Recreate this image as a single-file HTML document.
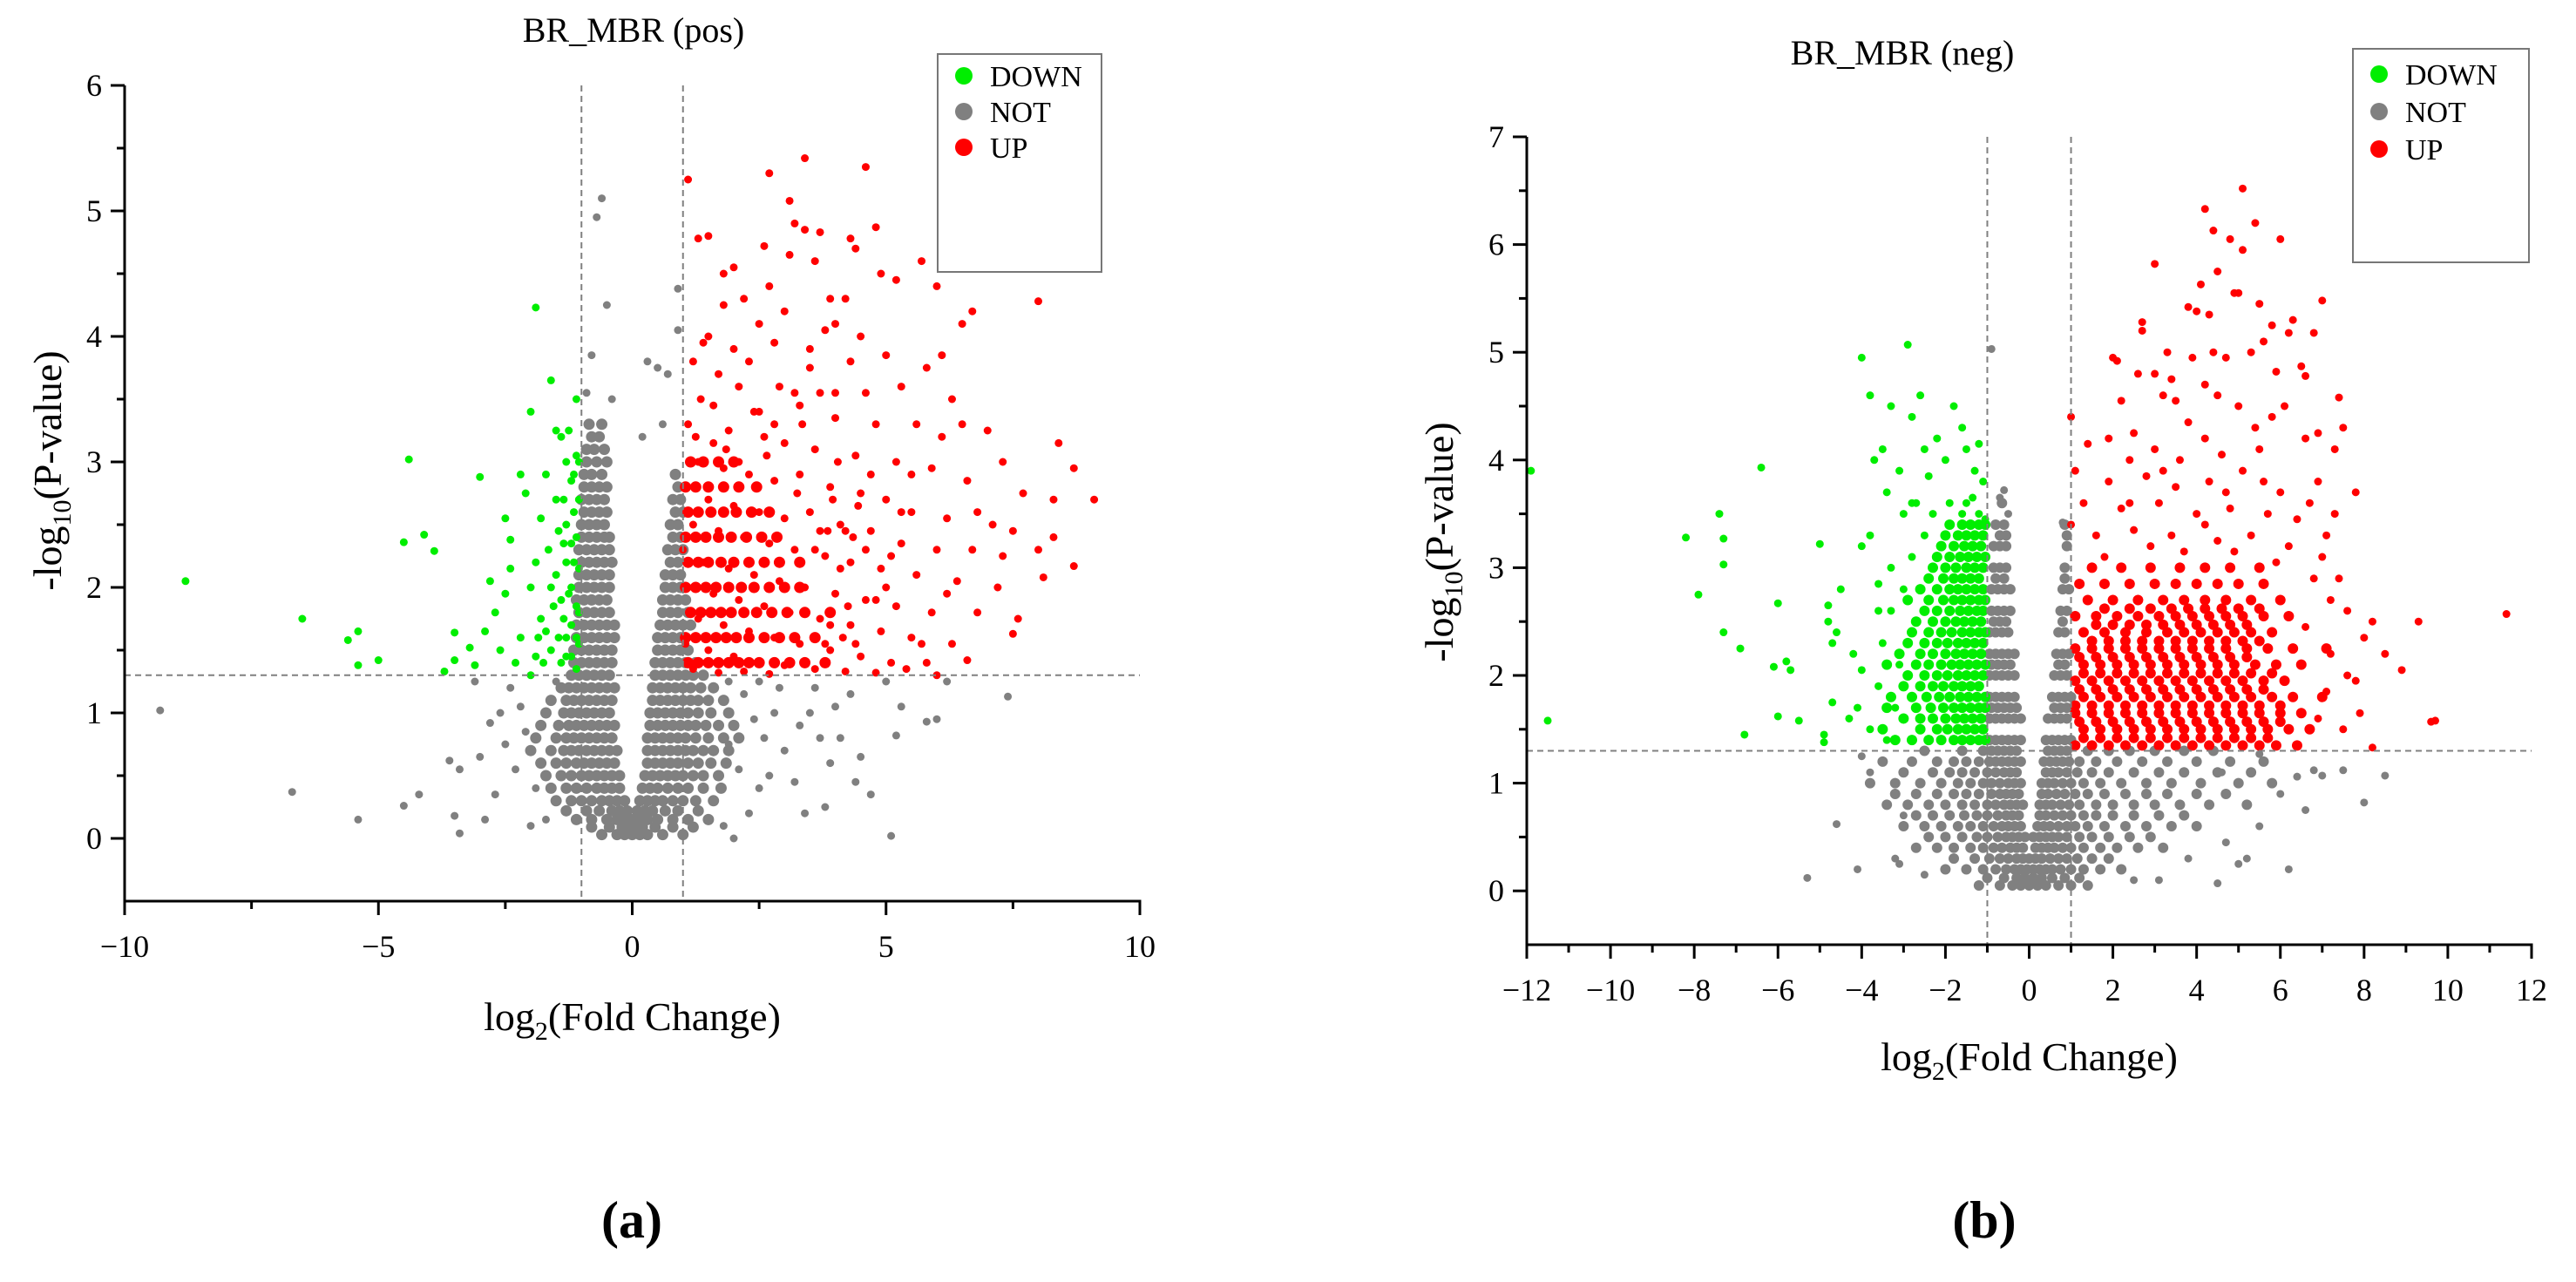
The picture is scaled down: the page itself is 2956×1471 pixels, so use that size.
<!DOCTYPE html>
<html><head><meta charset="utf-8">
<style>
html,body{margin:0;padding:0;background:#fff;}
svg{display:block;font-family:"Liberation Serif","DejaVu Serif",serif;}
</style></head>
<body>
<svg id="fig" width="2956" height="1471" viewBox="0 0 2956 1471" xmlns="http://www.w3.org/2000/svg">
<rect width="2956" height="1471" fill="#fff"/>
<g id="panelA"></g>
<g id="panelB"></g>
</svg>
<script>
// ---------------- Panel A data (log2FC, -log10 p) ----------------
const aXTicks = [-10,-5,0,5,10];
const aXTickLabels = ["\u221210","\u22125","0","5","10"];
const aYTicks = [0,1,2,3,4,5,6];
const aYTickLabels = ["0","1","2","3","4","5","6"];
const aDown = [[-8.8,2.05],[-6.5,1.75],[-5.6,1.58],[-5.4,1.65],[-5.4,1.38],[-5.0,1.42],[-4.4,3.02],[-4.5,2.36],[-4.1,2.42],[-3.9,2.29],[-3.7,1.33],[-3.5,1.64],[-3.5,1.42],[-3.2,1.52],[-3.0,2.88],[-2.8,2.05],[-2.7,1.8],[-2.5,2.55],[-2.5,1.95],[-2.4,2.38],[-2.2,2.9],[-2.2,1.6],[-2.1,2.75],[-2.0,3.4],[-2.0,1.3],[-1.9,4.23],[-1.9,2.2],[-1.8,2.55],[-1.8,1.75],[-1.7,2.9],[-1.6,3.65],[-1.6,1.5],[-1.5,3.25],[-1.5,2.7],[-1.5,2.1],[-1.4,3.2],[-1.4,1.9],[-1.4,1.4],[-1.3,3.0],[-1.3,2.5],[-1.3,2.2],[-1.3,1.6],[-1.2,2.85],[-1.2,2.0],[-1.2,1.7],[-1.1,3.5],[-1.1,3.05],[-1.1,2.4],[-1.1,1.85],[-1.1,1.35],[-1.05,2.7],[-1.05,2.15],[-1.05,1.55],[-2.6,1.5],[-2.3,1.4],[-2.0,2.0],[-1.75,1.4],[-1.65,2.3],[-1.35,2.7],[-1.25,3.25],[-1.15,2.6],[-2.9,1.65],[-3.1,1.38],[-2.4,2.15],[-1.85,1.6],[-1.55,1.85],[-1.45,2.45],[-1.25,1.95],[-1.05,3.0],[-1.15,2.2],[-1.2,1.45],[-1.35,1.75],[-1.05,1.8],[-1.1,1.6],[-1.2,2.35],[-1.3,1.45],[-1.45,1.6],[-1.6,2.0],[-1.7,1.65],[-1.9,1.45],[-1.15,2.9],[-1.35,2.35]];
const aUp = [[1.1,5.25],[2.7,5.3],[3.4,5.42],[4.6,5.35],[3.1,5.08],[4.8,4.87],[3.2,4.9],[3.4,4.85],[3.7,4.83],[1.3,4.78],[1.5,4.8],[4.3,4.78],[4.4,4.7],[2.6,4.72],[3.1,4.65],[2.0,4.55],[1.8,4.5],[5.7,4.6],[3.6,4.6],[4.9,4.5],[5.2,4.45],[6.0,4.4],[8.0,4.28],[6.7,4.2],[2.2,4.3],[1.8,4.25],[3.0,4.2],[4.2,4.3],[2.5,4.1],[3.8,4.05],[4.0,4.1],[6.5,4.1],[1.4,3.95],[2.8,3.95],[3.5,3.9],[4.3,3.8],[5.0,3.85],[5.8,3.75],[6.1,3.85],[1.2,3.8],[1.7,3.7],[2.1,3.6],[2.9,3.6],[3.7,3.55],[4.6,3.55],[5.3,3.6],[6.3,3.5],[7.0,3.25],[8.4,3.15],[1.6,3.45],[2.4,3.4],[3.3,3.45],[4.0,3.35],[4.8,3.3],[5.6,3.3],[6.1,3.2],[7.3,3.0],[8.7,2.95],[9.1,2.7],[1.1,3.3],[1.9,3.25],[2.6,3.2],[3.0,3.15],[3.6,3.1],[4.4,3.05],[5.2,3.0],[5.9,2.95],[6.6,2.85],[7.7,2.75],[8.3,2.7],[1.3,3.0],[1.8,2.95],[2.3,2.9],[2.8,2.85],[3.3,2.9],[3.9,2.8],[4.5,2.75],[5.0,2.7],[5.5,2.6],[6.2,2.55],[7.1,2.5],[7.5,2.45],[8.3,2.4],[1.05,2.8],[1.5,2.7],[2.0,2.65],[2.5,2.6],[3.0,2.55],[3.5,2.6],[4.1,2.5],[4.7,2.45],[5.3,2.35],[6.0,2.3],[6.7,2.3],[7.3,2.25],[8.0,2.3],[8.7,2.17],[1.2,2.5],[1.7,2.45],[2.2,2.4],[2.7,2.35],[3.2,2.3],[3.8,2.25],[4.3,2.2],[4.9,2.15],[5.6,2.1],[6.4,2.05],[8.1,2.08],[1.0,2.3],[1.4,2.2],[1.9,2.15],[2.4,2.1],[2.9,2.05],[3.4,2.0],[4.0,1.95],[4.6,1.9],[5.2,1.85],[5.9,1.8],[6.8,1.8],[7.6,1.75],[1.1,2.0],[1.6,1.95],[2.1,1.9],[2.6,1.85],[3.1,1.8],[3.7,1.75],[4.3,1.7],[4.9,1.65],[5.5,1.6],[6.3,1.55],[7.5,1.63],[1.3,1.75],[1.8,1.7],[2.3,1.65],[2.8,1.6],[3.3,1.55],[3.9,1.5],[4.5,1.45],[5.1,1.4],[5.8,1.4],[6.6,1.42],[1.05,1.55],[1.5,1.5],[2.0,1.45],[2.5,1.4],[3.0,1.38],[3.6,1.35],[4.2,1.33],[4.8,1.32],[5.4,1.35],[6.0,1.3],[1.2,1.35],[1.7,1.32],[2.2,1.33],[2.7,1.31],[3.35,3.3],[4.05,3.0],[3.2,3.55],[3.5,3.75],[1.35,3.5],[5.0,2.0],[5.3,2.6],[4.7,2.9],[5.5,2.9],[4.0,3.55],[4.5,4.0],[3.9,4.3],[2.3,3.8],[2.0,3.9],[1.5,4.0],[2.7,4.4],[6.5,3.3],[6.8,2.6],[7.2,2.0],[5.7,1.55],[6.2,1.95],[4.4,1.55],[4.6,2.3],[4.2,2.45],[4.8,1.9],[5.1,2.25],[3.6,2.3],[3.8,1.55],[3.7,2.45],[3.9,1.7],[4.1,2.15],[1.6,3.15],[1.25,3.2],[2.5,3.4],[2.8,3.3],[2.1,3.0],[1.85,3.1],[2.65,3.05],[3.25,2.75],[3.95,2.7],[4.45,2.65],[3.85,2.45],[4.35,2.4],[4.15,1.6],[4.25,1.85]];
const aUpRowY = [1.4,1.6,1.8,2.0,2.2,2.4,2.6,2.8,3.0];
const aUpRowX = [
 [1.1,1.3,1.5,1.7,1.9,2.1,2.3,2.5,2.8,3.1,3.4,3.8],
 [1.05,1.25,1.45,1.65,1.85,2.05,2.3,2.6,2.9,3.2,3.6],
 [1.15,1.35,1.55,1.75,1.95,2.2,2.45,2.75,3.05,3.4,3.9],
 [1.05,1.25,1.45,1.65,1.9,2.15,2.4,2.7,3.0,3.3],
 [1.1,1.3,1.5,1.75,2.0,2.3,2.6,2.9,3.3],
 [1.05,1.25,1.45,1.7,1.95,2.25,2.55,2.85],
 [1.1,1.3,1.55,1.8,2.05,2.35,2.7],
 [1.05,1.25,1.5,1.8,2.1,2.45],
 [1.15,1.4,1.7,2.0]
];
const aNotOutliers = [[-9.3,1.02],[-6.7,0.37],[-5.4,0.15],[-4.5,0.26],[-4.2,0.35],[-3.5,0.18],[-3.4,0.04],[-3.6,0.62],[-3.4,0.55],[-2.0,0.1],[-2.3,0.55],[-2.8,0.92],[-2.6,1.0],[-3.0,0.65],[-3.1,1.25],[-2.4,1.2],[7.4,1.13],[5.1,0.02],[6.0,0.95],[5.8,0.93],[5.3,1.05],[4.5,0.65],[3.8,0.25],[4.7,0.35],[5.2,0.82],[4.1,0.8],[3.5,1.0],[3.0,0.7],[2.7,0.5],[2.5,0.4],[2.9,1.2],[3.3,0.9],[3.9,0.6],[4.3,1.15],[6.2,1.25],[5.0,1.25],[2.0,0.0],[1.8,0.1],[-0.6,5.1],[-0.7,4.95],[-0.5,4.25],[0.9,4.38],[0.9,4.05],[0.3,3.8],[0.5,3.75],[-0.8,3.85],[-0.9,3.55],[-0.4,3.5],[0.7,3.7],[0.6,3.3],[0.2,3.2],[2.2,1.15],[2.6,0.8],[3.6,1.2],[4.0,1.05],[2.3,0.2],[1.9,1.25],[-2.1,0.85],[-1.9,0.4],[-2.5,0.75],[-2.2,1.05],[-1.8,0.9],[-2.7,0.35],[-2.9,0.15],[2.4,0.95],[2.8,1.0],[3.2,0.45],[3.4,0.2],[2.1,0.55],[2.5,1.25],[1.9,0.75],[-1.5,1.25],[-1.7,0.15],[4.4,0.45],[3.7,0.8]];
const aNotRowY = [3.3,3.1,2.9,2.7,2.5,2.3,2.1,1.9,1.7,1.5,1.3,1.1,0.9,0.7,0.5,0.3,0.15,0.03,
                  3.2,3.0,2.8,2.6,2.4,2.2,2.0,1.8,1.6,1.4,1.2,1.0,0.8,0.6,0.4,0.22,0.09];
const aNotRowX = [
 [-0.85,-0.6],
 [-0.9,-0.75,-0.55],
 [-0.95,-0.8,-0.6,0.85],
 [-1.0,-0.85,-0.7,-0.55,0.8,0.95],
 [-1.0,-0.85,-0.7,-0.55,0.75,0.9],
 [-1.05,-0.9,-0.75,-0.6,-0.45,0.7,0.85,1.0],
 [-1.05,-0.9,-0.75,-0.6,-0.45,0.65,0.8,0.95],
 [-1.1,-0.95,-0.8,-0.65,-0.5,0.6,0.75,0.9,1.05],
 [-1.1,-0.95,-0.8,-0.65,-0.5,-0.35,0.55,0.7,0.85,1.0,1.15],
 [-1.15,-1.0,-0.85,-0.7,-0.55,-0.4,0.5,0.65,0.8,0.95,1.1],
 [-1.2,-1.05,-0.9,-0.75,-0.6,-0.45,0.45,0.6,0.75,0.9,1.05,1.2,1.4],
 [-1.6,-1.3,-1.15,-1.0,-0.85,-0.7,-0.55,-0.4,0.4,0.55,0.7,0.85,1.0,1.15,1.3,1.5,1.8],
 [-1.8,-1.45,-1.25,-1.1,-0.95,-0.8,-0.65,-0.5,-0.35,0.35,0.5,0.65,0.8,0.95,1.1,1.25,1.45,1.7,2.0],
 [-2.0,-1.6,-1.35,-1.2,-1.05,-0.9,-0.75,-0.6,-0.45,-0.3,0.3,0.45,0.6,0.75,0.9,1.05,1.2,1.4,1.6,1.9],
 [-1.7,-1.4,-1.2,-1.0,-0.85,-0.7,-0.55,-0.4,-0.25,0.25,0.4,0.55,0.7,0.85,1.0,1.2,1.4,1.7],
 [-1.5,-1.2,-1.0,-0.8,-0.6,-0.45,-0.3,-0.15,0.15,0.3,0.45,0.6,0.8,1.0,1.25,1.6],
 [-1.1,-0.8,-0.5,-0.3,-0.15,0,0.15,0.3,0.5,0.8,1.1,1.5],
 [-0.6,-0.3,-0.15,0,0.15,0.3,0.6,1.0],
 [-0.8,-0.65],
 [-0.9,-0.7,-0.5],
 [-0.95,-0.8,-0.65,-0.5,0.9],
 [-0.95,-0.8,-0.65,-0.5,0.85,1.0],
 [-1.0,-0.85,-0.7,-0.55,-0.45,0.8,0.95],
 [-1.0,-0.85,-0.7,-0.55,-0.4,0.75,0.9],
 [-1.05,-0.9,-0.75,-0.6,-0.45,0.65,0.8,0.95],
 [-1.05,-0.9,-0.75,-0.6,-0.45,0.6,0.75,0.9,1.1],
 [-1.1,-0.95,-0.8,-0.65,-0.5,-0.35,0.5,0.65,0.8,0.95],
 [-1.15,-1.0,-0.85,-0.7,-0.55,-0.4,0.45,0.6,0.75,0.9,1.05,1.25],
 [-1.4,-1.25,-1.1,-0.95,-0.8,-0.65,-0.5,-0.35,0.4,0.55,0.7,0.85,1.0,1.15,1.35,1.6],
 [-1.7,-1.35,-1.2,-1.05,-0.9,-0.75,-0.6,-0.45,0.35,0.5,0.65,0.8,0.95,1.1,1.3,1.55,1.9],
 [-1.9,-1.5,-1.3,-1.15,-1.0,-0.85,-0.7,-0.55,-0.4,0.3,0.45,0.6,0.75,0.9,1.05,1.25,1.5,1.8,2.1],
 [-1.8,-1.5,-1.3,-1.1,-0.95,-0.8,-0.65,-0.5,-0.35,0.3,0.45,0.6,0.75,0.9,1.1,1.3,1.55,1.85],
 [-1.6,-1.3,-1.1,-0.9,-0.7,-0.55,-0.4,-0.25,0.2,0.35,0.5,0.7,0.9,1.1,1.4,1.75],
 [-1.3,-0.9,-0.65,-0.4,-0.25,-0.1,0.1,0.25,0.4,0.65,0.9,1.3],
 [-0.8,-0.45,-0.2,-0.05,0.05,0.2,0.45,0.8,1.2]
];

// ---------------- Panel B data ----------------
const bXTicks = [-12,-10,-8,-6,-4,-2,0,2,4,6,8,10,12];
const bXTickLabels = ["\u221212","\u221210","\u22128","\u22126","\u22124","\u22122","0","2","4","6","8","10","12"];
const bYTicks = [0,1,2,3,4,5,6,7];
const bYTickLabels = ["0","1","2","3","4","5","6","7"];
const bDown = [[-11.9,3.9],[-11.5,1.58],[-8.2,3.28],[-7.9,2.75],[-7.4,3.5],[-7.3,3.27],[-7.3,3.03],[-7.3,2.4],[-6.9,2.25],[-6.8,1.45],[-6.4,3.93],[-6.0,2.67],[-6.1,2.08],[-6.0,1.62],[-5.8,2.13],[-5.7,2.05],[-5.5,1.58],[-5.0,3.22],[-4.9,1.45],[-4.9,1.38],[-4.8,2.65],[-4.8,2.5],[-4.7,2.3],[-4.7,1.75],[-4.6,2.4],[-4.5,2.8],[-4.3,1.6],[-4.2,2.2],[-4.0,4.95],[-4.0,3.2],[-4.0,2.05],[-3.8,4.6],[-3.8,3.3],[-3.7,4.0],[-3.6,2.85],[-3.5,4.1],[-3.4,3.7],[-3.3,4.5],[-3.1,3.9],[-3.0,3.5],[-2.9,5.07],[-2.8,4.4],[-2.8,3.6],[-2.6,4.6],[-2.5,4.1],[-2.4,3.85],[-2.2,4.2],[-2.0,4.0],[-1.8,4.5],[-1.6,4.3],[-1.5,4.1],[-1.3,3.9],[-1.2,4.15],[-1.1,3.8],[-3.8,1.5],[-3.6,1.9],[-3.5,2.3],[-3.4,1.4],[-3.3,2.6],[-3.2,1.7],[-3.1,2.1],[-3.0,2.8],[-2.8,3.1],[-2.5,3.3],[-2.3,3.5],[-2.7,3.6],[-3.3,3.0],[-3.6,2.6],[-4.1,1.7],[-1.6,3.5],[-1.5,3.6],[-1.2,3.5],[-1.05,3.45],[-1.35,3.65],[-1.9,3.6]];
const bDownRowY = [1.4,1.6,1.8,2.0,2.2,2.4,2.6,2.8,3.0,3.2,3.4,1.5,1.7,1.9,2.1,2.3,2.5,2.7,2.9,3.1,3.3];
const bDownRowX = [
 [-3.2,-2.8,-2.4,-2.1,-1.8,-1.6,-1.4,-1.2,-1.05],
 [-3.0,-2.6,-2.3,-2.0,-1.75,-1.55,-1.35,-1.15],
 [-3.3,-2.8,-2.45,-2.15,-1.9,-1.65,-1.45,-1.25,-1.05],
 [-2.9,-2.5,-2.2,-1.95,-1.7,-1.5,-1.3,-1.1],
 [-3.1,-2.6,-2.3,-2.0,-1.75,-1.55,-1.35,-1.15],
 [-2.8,-2.4,-2.1,-1.85,-1.6,-1.4,-1.2,-1.05],
 [-2.5,-2.2,-1.9,-1.65,-1.45,-1.25,-1.1],
 [-2.6,-2.2,-1.9,-1.7,-1.5,-1.3,-1.1],
 [-2.3,-2.0,-1.75,-1.5,-1.3,-1.1],
 [-2.1,-1.8,-1.55,-1.35,-1.15],
 [-1.9,-1.6,-1.4,-1.2,-1.05],
 [-3.5,-2.6,-2.2,-1.95,-1.7,-1.5,-1.3,-1.1],
 [-3.4,-2.7,-2.35,-2.05,-1.8,-1.6,-1.4,-1.2,-1.05],
 [-3.0,-2.6,-2.3,-2.05,-1.8,-1.6,-1.4,-1.2],
 [-3.4,-2.7,-2.4,-2.1,-1.85,-1.65,-1.45,-1.25,-1.05],
 [-2.9,-2.5,-2.2,-1.95,-1.7,-1.5,-1.3,-1.1],
 [-2.7,-2.3,-2.0,-1.75,-1.55,-1.35,-1.15],
 [-2.9,-2.4,-2.05,-1.8,-1.6,-1.4,-1.2,-1.05],
 [-2.4,-2.05,-1.8,-1.6,-1.4,-1.2],
 [-2.2,-1.9,-1.65,-1.45,-1.25,-1.05],
 [-2.0,-1.7,-1.5,-1.3,-1.1]
];
const bUp = [[5.1,6.52],[4.2,6.33],[4.4,6.13],[5.4,6.2],[4.8,6.05],[5.1,5.95],[6.0,6.05],[3.0,5.82],[4.1,5.63],[4.5,5.75],[4.9,5.55],[5.0,5.55],[5.5,5.45],[7.0,5.48],[3.8,5.42],[4.3,5.35],[4.0,5.38],[5.8,5.25],[2.7,5.28],[2.7,5.2],[6.3,5.3],[5.6,5.1],[6.2,5.18],[6.8,5.18],[4.4,5.0],[3.3,5.0],[3.9,4.95],[4.7,4.95],[5.3,5.0],[6.5,4.87],[2.1,4.92],[2.0,4.95],[3.0,4.8],[3.4,4.75],[4.2,4.7],[5.9,4.82],[6.6,4.78],[2.6,4.8],[2.2,4.55],[3.2,4.6],[3.5,4.55],[4.5,4.6],[5.0,4.5],[5.8,4.4],[6.1,4.5],[7.4,4.58],[1.0,4.4],[1.9,4.2],[2.5,4.25],[3.8,4.35],[4.2,4.2],[5.4,4.3],[6.9,4.25],[7.5,4.3],[1.4,4.15],[2.4,4.0],[3.0,4.1],[3.6,4.0],[4.6,4.05],[5.5,4.1],[6.6,4.2],[7.3,4.1],[1.1,3.9],[1.9,3.8],[2.8,3.85],[3.5,3.75],[4.3,3.8],[5.1,3.9],[6.0,3.7],[6.9,3.8],[7.8,3.7],[1.3,3.6],[2.2,3.55],[3.1,3.6],[4.0,3.5],[4.8,3.55],[5.7,3.5],[6.4,3.45],[7.1,3.3],[1.0,3.4],[1.6,3.3],[2.5,3.35],[3.4,3.3],[4.5,3.25],[5.3,3.3],[6.2,3.2],[7.0,3.1],[7.6,2.6],[7.4,2.9],[8.2,2.5],[9.3,2.5],[11.4,2.57],[8.0,2.35],[8.5,2.2],[8.9,2.05],[9.7,1.58],[9.6,1.57],[8.2,1.33],[7.9,1.65],[7.5,1.5],[7.8,1.95],[2.9,3.2],[3.7,3.15],[4.2,3.4],[4.9,3.15],[5.9,3.05],[1.8,3.1],[2.4,3.6],[3.2,3.9],[4.7,3.7],[5.6,3.8],[6.7,3.6],[7.3,3.5],[6.8,2.9],[7.2,2.2],[7.6,2.0],[6.9,1.6],[7.1,1.85],[6.6,2.45],[7.2,2.7]];
const bUpRowY = [1.35,1.5,1.65,1.8,1.95,2.1,2.25,2.4,2.55,2.7,2.85,3.0,
                 1.42,1.72,2.02,2.32,2.62,1.57,1.87,2.17,2.47];
const bUpRowX = [
 [1.1,1.5,1.9,2.3,2.7,3.1,3.5,3.9,4.3,4.7,5.1,5.5,5.9,6.4],
 [1.3,1.7,2.1,2.5,2.9,3.3,3.7,4.1,4.5,4.9,5.3,5.7,6.2,6.7],
 [1.1,1.5,1.9,2.3,2.7,3.1,3.5,3.9,4.3,4.7,5.1,5.5,6.0,6.5],
 [1.3,1.7,2.1,2.5,2.9,3.3,3.7,4.1,4.5,4.9,5.3,5.8,6.3,7.0],
 [1.1,1.5,1.9,2.3,2.7,3.1,3.5,3.9,4.3,4.7,5.1,5.6,6.1],
 [1.3,1.7,2.1,2.5,2.9,3.3,3.7,4.1,4.5,4.9,5.4,5.9,6.5],
 [1.1,1.5,1.9,2.3,2.7,3.1,3.5,3.9,4.3,4.7,5.2,5.7,6.3,7.1],
 [1.3,1.8,2.3,2.8,3.3,3.7,4.1,4.5,4.9,5.3,5.8],
 [1.1,1.6,2.1,2.6,3.1,3.5,3.9,4.3,4.7,5.1,5.6,6.2],
 [1.4,2.0,2.6,3.2,3.7,4.2,4.7,5.3,6.0],
 [1.2,1.8,2.4,3.0,3.5,4.0,4.5,5.0,5.6],
 [1.5,2.2,2.9,3.6,4.2,4.8,5.5],
 [1.3,1.7,2.1,2.5,2.9,3.3,3.7,4.1,4.5,4.9,5.3,5.7],
 [1.1,1.5,1.9,2.3,2.7,3.1,3.5,3.9,4.3,4.7,5.1,5.5,6.0],
 [1.3,1.7,2.1,2.5,2.9,3.3,3.7,4.1,4.5,4.9,5.3,5.8],
 [1.5,1.9,2.3,2.7,3.1,3.5,3.9,4.3,4.7,5.1,5.5],
 [1.8,2.4,2.9,3.4,3.8,4.2,4.6,5.0,5.5],
 [1.2,1.6,2.0,2.4,2.8,3.2,3.6,4.0,4.4,4.8,5.2,5.6,6.0],
 [1.2,1.6,2.0,2.4,2.8,3.2,3.6,4.0,4.4,4.8,5.2,5.6],
 [1.2,1.6,2.0,2.4,2.8,3.2,3.6,4.0,4.4,4.8,5.2],
 [1.6,2.0,2.4,2.8,3.2,3.6,4.0,4.4,4.8,5.2]
];
const bNotOutliers = [[-5.3,0.12],[-4.1,0.2],[-4.6,0.62],[-3.2,0.3],[-3.1,0.25],[-2.5,0.15],[-0.9,5.03],[-0.6,3.72],[-0.7,3.65],[6.2,0.2],[4.5,0.07],[5.0,0.25],[5.2,0.3],[3.1,0.1],[8.0,0.82],[8.5,1.07],[7.5,1.12],[6.8,1.12],[7.0,1.07],[6.4,1.06],[5.5,1.27],[-4.0,1.25],[-3.8,1.1],[-3.0,0.7],[6.0,0.9],[5.5,0.6],[4.7,0.45],[3.8,0.3],[2.5,0.1],[6.6,0.75],[4.6,1.1],[0.8,3.42],[0.9,3.3],[-0.5,3.5]];
const bNotRowY = [3.6,3.4,3.2,3.0,2.8,2.6,2.4,2.2,2.0,1.8,1.6,1.4,1.2,1.0,0.8,0.6,0.4,0.2,0.05,
                  3.3,2.9,2.5,2.1,1.7,1.3,1.1,0.9,0.7,0.5,0.3,0.12];
const bNotRowX = [
 [-0.65],
 [-0.8,-0.6,0.85],
 [-0.85,-0.7,-0.55,0.9],
 [-0.85,-0.7,-0.55,0.85],
 [-0.9,-0.75,-0.6,-0.45,0.8,0.95],
 [-0.9,-0.75,-0.6,-0.45,0.75,0.9],
 [-0.95,-0.8,-0.65,-0.5,0.7,0.85],
 [-0.95,-0.8,-0.65,-0.5,-0.35,0.65,0.8,0.95],
 [-0.95,-0.8,-0.65,-0.5,-0.35,0.6,0.75,0.9],
 [-0.95,-0.8,-0.65,-0.5,-0.35,0.55,0.7,0.85,1.0],
 [-0.95,-0.8,-0.65,-0.5,-0.35,-0.2,0.45,0.6,0.75,0.9],
 [-0.95,-0.8,-0.65,-0.5,-0.35,-0.2,0.4,0.55,0.7,0.85,1.0],
 [-3.5,-2.8,-2.2,-1.8,-1.5,-1.2,-0.95,-0.8,-0.65,-0.5,-0.35,-0.2,0.35,0.5,0.65,0.8,0.95,1.2,1.6,2.1,2.7,3.3,4.0,4.8,5.6],
 [-3.8,-3.2,-2.6,-2.1,-1.7,-1.4,-1.1,-0.9,-0.7,-0.5,-0.35,-0.2,0.3,0.45,0.6,0.8,1.0,1.3,1.7,2.2,2.8,3.4,4.1,5.0,5.8],
 [-3.4,-2.9,-2.4,-2.0,-1.6,-1.3,-1.0,-0.8,-0.6,-0.45,-0.3,-0.15,0.25,0.4,0.55,0.75,0.95,1.2,1.6,2.0,2.5,3.0,3.6,4.3,5.2],
 [-3.0,-2.5,-2.1,-1.7,-1.4,-1.1,-0.85,-0.65,-0.5,-0.35,-0.2,0.2,0.35,0.5,0.7,0.9,1.1,1.4,1.8,2.3,2.8,3.4,4.0],
 [-2.7,-2.2,-1.8,-1.4,-1.1,-0.85,-0.65,-0.45,-0.3,-0.15,0.15,0.3,0.45,0.6,0.8,1.0,1.3,1.7,2.1,2.6,3.2],
 [-2.0,-1.5,-1.1,-0.8,-0.55,-0.35,-0.2,-0.05,0.1,0.25,0.4,0.55,0.75,1.0,1.3,1.7,2.2],
 [-1.2,-0.7,-0.4,-0.2,0,0.2,0.4,0.7,1.0,1.4],
 [-0.7,-0.55,0.9],
 [-0.8,-0.6,0.85],
 [-0.85,-0.7,-0.55,0.8],
 [-0.9,-0.75,-0.6,-0.45,0.7,0.85],
 [-0.9,-0.75,-0.6,-0.45,-0.3,0.6,0.75,0.9],
 [-2.5,-1.6,-1.1,-0.9,-0.75,-0.6,-0.45,-0.3,0.45,0.6,0.75,0.9,1.4,1.9,2.4,3.0,3.7,4.4],
 [-3.0,-2.3,-1.9,-1.6,-1.3,-1.0,-0.8,-0.6,-0.45,-0.3,0.4,0.55,0.7,0.9,1.15,1.5,1.9,2.5,3.1,3.7,4.5,5.3],
 [-3.2,-2.7,-2.2,-1.8,-1.5,-1.2,-0.9,-0.7,-0.55,-0.4,-0.25,0.3,0.45,0.65,0.85,1.1,1.4,1.8,2.3,2.8,3.3,4.0,4.7],
 [-2.7,-2.3,-1.9,-1.55,-1.25,-1.0,-0.75,-0.55,-0.4,-0.25,0.25,0.4,0.6,0.8,1.0,1.3,1.6,2.0,2.5,3.1,3.7],
 [-2.4,-2.0,-1.6,-1.25,-1.0,-0.75,-0.55,-0.4,-0.25,-0.1,0.1,0.25,0.4,0.55,0.7,0.9,1.2,1.5,1.9,2.4,2.9],
 [-1.8,-1.3,-0.95,-0.7,-0.5,-0.3,-0.15,0,0.15,0.3,0.5,0.7,0.9,1.15,1.5,1.9],
 [-1.0,-0.6,-0.3,-0.1,0.1,0.3,0.55,0.85,1.2]
];
const legendLabels = ["DOWN","NOT","UP"];
const thresholdFC = 1;
const thresholdP = 1.3;

// ---------------- drawing ----------------
const NS = "http://www.w3.org/2000/svg";
const C_DOWN = "#00ee00", C_NOT = "#808080", C_UP = "#ff0000";
function mk(tag, attrs, parent){
  const e = document.createElementNS(NS, tag);
  for (const k in attrs) e.setAttribute(k, attrs[k]);
  parent.appendChild(e);
  return e;
}
function makeScale(d0,d1,r0,r1){ return v => r0 + (v-d0)*(r1-r0)/(d1-d0); }

function drawPanel(g, cfg){
  const sx = makeScale(cfg.xmin, cfg.xmax, cfg.left, cfg.right);
  const sy = makeScale(cfg.ymin, cfg.ymax, cfg.bottom, cfg.top);
  const pg = mk("g", {}, g);
  
  
  function rows(ys, xs, color, r, nm){
    if (!ys) return;
    ys.forEach((yv, i) => {
      xs[i].forEach(xv => {
        const c = mk("circle", {cx: sx(xv), cy: sy(yv), r: r, fill: color}, pg);
        
        
      });
    });
  }
  function pts(arr, color, r, nm){
    arr.forEach(p => {
      const c = mk("circle", {cx: sx(p[0]), cy: sy(p[1]), r: r, fill: color}, pg);
      
      
    });
  }
  rows(cfg.notRowY, cfg.notRowX, C_NOT, cfg.rFill, 'not-point');
  pts(cfg.notOut, C_NOT, cfg.r, 'not-point');
  rows(cfg.upRowY, cfg.upRowX, C_UP, cfg.rFill, 'up-point');
  pts(cfg.up, C_UP, cfg.r, 'up-point');
  rows(cfg.downRowY, cfg.downRowX, C_DOWN, cfg.rFill, 'down-point');
  pts(cfg.down, C_DOWN, cfg.r, 'down-point');
  // threshold lines
  const dash = {stroke: "#808080", "stroke-width": 2, "stroke-dasharray": "7 5", fill: "none"};
  [-thresholdFC, thresholdFC].forEach(v => {
    const l = mk("line", Object.assign({x1: sx(v), x2: sx(v), y1: cfg.top, y2: cfg.bottom}, dash), g);
    
    
  });
  const hl = mk("line", Object.assign({x1: cfg.left, x2: cfg.hlineEnd, y1: sy(thresholdP), y2: sy(thresholdP)}, dash), g);
  
  
  // axes
  const ax = mk("g", {stroke: "#000", "stroke-width": 3, fill: "none"}, g);
  
  
  const yl = mk("line", {x1: cfg.left, x2: cfg.left, y1: cfg.top, y2: cfg.bottom + 1.5}, ax);
  
  
  const xl = mk("line", {x1: cfg.left - 1.5, x2: cfg.right + 1.5, y1: cfg.bottom, y2: cfg.bottom}, ax);
  
  
  const tg = mk("g", {"font-size": cfg.tickFont, fill: "#000"}, g);
  
  
  cfg.xTicks.forEach((v, i) => {
    const x = sx(v);
    const t = mk("line", {x1: x, x2: x, y1: cfg.bottom, y2: cfg.bottom + 16}, ax);
    
    
    const lab = mk("text", {x: x, y: cfg.bottom + 64, "text-anchor": "middle"}, tg);
    lab.textContent = cfg.xTickLabels[i];
    
    
    if (i < cfg.xTicks.length - 1) {
      const mx = sx((v + cfg.xTicks[i+1]) / 2);
      const m = mk("line", {x1: mx, x2: mx, y1: cfg.bottom, y2: cfg.bottom + 9}, ax);
      
      
    }
  });
  const yAll = [cfg.ymin].concat(cfg.yTicks);
  cfg.yTicks.forEach((v, i) => {
    const y = sy(v);
    const t = mk("line", {x1: cfg.left - 16, x2: cfg.left, y1: y, y2: y}, ax);
    
    
    const lab = mk("text", {x: cfg.left - 26, y: y + 12, "text-anchor": "end"}, tg);
    lab.textContent = cfg.yTickLabels[i];
    
    
  });
  for (let i = 1; i < yAll.length - 1; i++) {
    const my = sy((yAll[i] + yAll[i+1]) / 2);
    const m = mk("line", {x1: cfg.left - 9, x2: cfg.left, y1: my, y2: my}, ax);
    
    
  }
  const ti = mk("text", {x: cfg.titleX, y: cfg.titleY, "text-anchor": "middle", "font-size": 40}, g);
  ti.textContent = cfg.title;
  
  
  const xt = mk("text", {x: (cfg.left + cfg.right) / 2, y: cfg.xTitleY, "text-anchor": "middle", "font-size": 46}, g);
  xt.innerHTML = 'log<tspan font-size="30" dy="11">2</tspan><tspan dy="-11">(Fold Change)</tspan>';
  
  
  const yt = mk("text", {x: 0, y: 0, "text-anchor": "middle", "font-size": 46, transform: `translate(${cfg.yTitleX},${cfg.yTitleCy}) rotate(-90)`}, g);
  yt.innerHTML = '-log<tspan font-size="30" dy="11">10</tspan><tspan dy="-11">(P-value)</tspan>';
  
  
  const lg = mk("g", {}, g);
  
  
  const lb = mk("rect", {x: cfg.legX, y: cfg.legY, width: cfg.legW, height: cfg.legH, fill: "#fff", stroke: "#777", "stroke-width": 2}, lg);
  
  
  const cols = [C_DOWN, C_NOT, C_UP];
  legendLabels.forEach((s, i) => {
    const cy = cfg.legY + cfg.legRow0 + i * cfg.legStep;
    const e = mk("g", {}, lg);
    
    
    mk("circle", {cx: cfg.legX + 30, cy: cy, r: 10, fill: cols[i]}, e);
    const tx = mk("text", {x: cfg.legX + 60, y: cy + 12, "font-size": 34}, e);
    tx.textContent = s;
  });
  const pl = mk("text", {x: cfg.labelX, y: 1420, "text-anchor": "middle", "font-size": 60, "font-weight": "bold"}, g);
  pl.textContent = '(' + cfg.label + ')';
  
  
}

drawPanel(document.getElementById('panelA'), {
  xmin: -10, xmax: 10, ymin: -0.5, ymax: 6,
  left: 143, right: 1308, bottom: 1034, top: 98,
  xTicks: aXTicks, xTickLabels: aXTickLabels, yTicks: aYTicks, yTickLabels: aYTickLabels,
  down: aDown, up: aUp, notOut: aNotOutliers, notRowY: aNotRowY, notRowX: aNotRowX,
  upRowY: aUpRowY, upRowX: aUpRowX,
  r: 4.5, rFill: 6.5, hlineEnd: 1308, tickFont: 36,
  title: "BR_MBR (pos)", titleX: 727, titleY: 48,
  xTitleY: 1182, yTitleX: 70, yTitleCy: 540,
  legX: 1076, legY: 62, legW: 188, legH: 250, legRow0: 25, legStep: 41,
  label: "a", labelX: 725
});
drawPanel(document.getElementById('panelB'), {
  xmin: -12, xmax: 12, ymin: -0.5, ymax: 7,
  left: 1752, right: 2905, bottom: 1084, top: 157,
  xTicks: bXTicks, xTickLabels: bXTickLabels, yTicks: bYTicks, yTickLabels: bYTickLabels,
  down: bDown, up: bUp, notOut: bNotOutliers, notRowY: bNotRowY, notRowX: bNotRowX,
  upRowY: bUpRowY, upRowX: bUpRowX, downRowY: bDownRowY, downRowX: bDownRowX,
  r: 4.5, rFill: 6, hlineEnd: 2905, tickFont: 36,
  title: "BR_MBR (neg)", titleX: 2183, titleY: 74,
  xTitleY: 1228, yTitleX: 1667, yTitleCy: 622,
  legX: 2700, legY: 56, legW: 202, legH: 245, legRow0: 29, legStep: 43,
  label: "b", labelX: 2277
});
</script>
</body></html>
